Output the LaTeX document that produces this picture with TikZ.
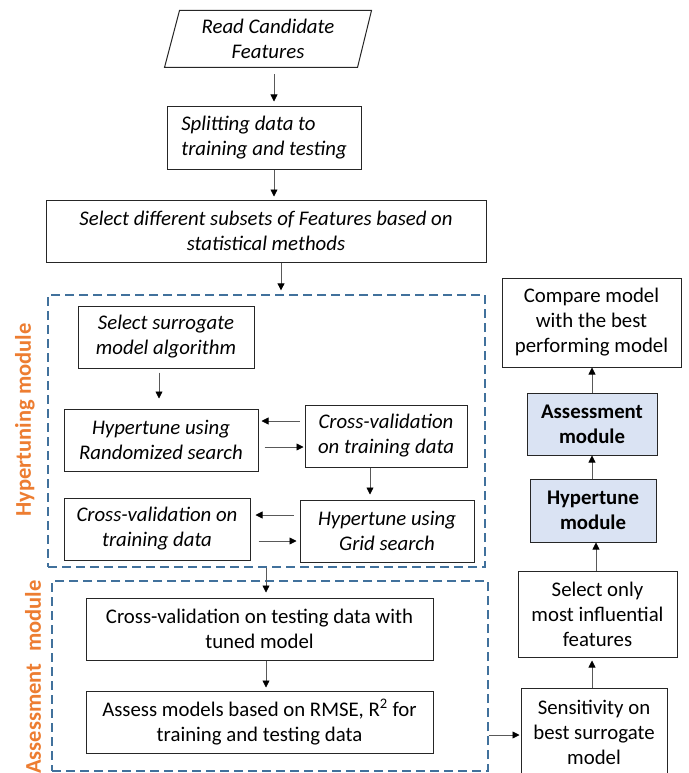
\documentclass[tikz,border=0pt]{standalone}
\usepackage{fontspec}
\setmainfont{Carlito}
\usetikzlibrary{arrows.meta}
\definecolor{dashblue}{HTML}{41719C}
\definecolor{orng}{HTML}{ED7D31}
\definecolor{lblue}{HTML}{DAE3F3}
\definecolor{edge}{HTML}{262626}
\begin{document}
\begin{tikzpicture}[x=1pt,y=-1pt,
 box/.style={draw=edge, line width=1pt, inner sep=0pt, align=center, font=\fontsize{20.8}{25}\selectfont},
 ibox/.style={box, font=\fontsize{20.8}{25}\selectfont\itshape},
 mbox/.style={box, fill=lblue, font=\fontsize{20.8}{25}\selectfont\bfseries},
 module/.style={draw=dashblue, line width=1.3pt, dash pattern=on 9pt off 5pt, inner sep=0pt},
 arr/.style={draw=black!65, line width=0.8pt, -{Triangle[length=7pt,width=7pt,color=black]}},
 lab/.style={text=orng, font=\fontsize{22.5}{25}\selectfont\bfseries, rotate=90, inner sep=0pt}
]
\useasboundingbox (0,0) rectangle (688,773);
\clip (0,0) rectangle (688,773);
\fill[white] (0,0) rectangle (688,773);

% top chain
\node[ibox, draw=none, minimum width=206pt, minimum height=56pt] (read) at (268,39) {Read Candidate\\Features};
\draw[edge, line width=1pt] (read.south west) -- ([xshift=-14pt]read.south east) -- (read.north east) -- ([xshift=15pt]read.north west) -- cycle;
\node[ibox, minimum width=194pt, minimum height=62pt, align=left] (split) at (264,138) {Splitting data to\\training and testing};
\node[ibox, minimum width=440pt, minimum height=62pt] (sel) at (266,231) {Select different subsets of Features based on\\statistical methods};

% module frames
\node[module, minimum width=437pt, minimum height=272pt] (hyp) at (266.5,431) {};
\node[module, minimum width=436pt, minimum height=190pt] (ass) at (270,676) {};
\node[lab] (lh) at (25,420) {Hypertuning module};
\node[lab] (la) at (33,677) {Assessment\hspace{7pt} module};

% hypertuning module
\node[ibox, minimum width=176pt, minimum height=62pt] (sur) at (166,337) {Select surrogate\\model algorithm};
\node[ibox, minimum width=194pt, minimum height=62pt] (rand) at (161,440) {Hypertune using\\Randomized search};
\node[ibox, minimum width=162pt, minimum height=62pt] (cv1) at (386,436) {Cross-validation\\on training data};
\node[ibox, minimum width=174pt, minimum height=62pt] (grid) at (387,531) {Hypertune using\\Grid search};
\node[ibox, minimum width=186pt, minimum height=62pt] (cv2) at (157,529) {Cross-validation on\\training data};

% assessment module
\node[box, minimum width=347pt, minimum height=62pt] (cvt) at (259.5,629) {Cross-validation on testing data with\\tuned model};
\node[box, minimum width=347pt, minimum height=62pt] (asm) at (259.5,722) {Assess models based on RMSE, R\textsuperscript{2} for\\training and testing data};

% right column
\node[box, minimum width=179pt, minimum height=89pt] (cmp) at (591.5,322.5) {Compare model\\with the best\\performing model};
\node[mbox, minimum width=130pt, minimum height=62pt] (amod) at (592,424) {Assessment\\module};
\node[mbox, minimum width=126pt, minimum height=63pt] (hmod) at (593,510.5) {Hypertune\\module};
\node[box, minimum width=159pt, minimum height=86pt] (selonly) at (597.5,614) {Select only\\most influential\\features};
\node[box, minimum width=146pt, minimum height=88pt] (sens) at (594,732) {Sensitivity on\\best surrogate\\model};

% helper coordinates
\coordinate (c1) at (274,0);
\coordinate (c2) at (281,0);
\coordinate (c3) at (159,0);
\coordinate (c4) at (370,0);
\coordinate (c5) at (266,0);
\coordinate (c6) at (592,0);
\coordinate (c7) at (596,0);
\coordinate (r1) at (0,421);
\coordinate (r2) at (0,447);
\coordinate (r3) at (0,515);
\coordinate (r4) at (0,541);
\coordinate (r5) at (0,735);

% connectors
\draw[arr, shorten <=7pt, shorten >=5pt] (read.south -| c1) -- (split.north -| c1);
\draw[arr, shorten >=3pt] (split.south -| c1) -- (sel.north -| c1);
\draw[arr, shorten >=4pt] (sel.south -| c2) -- (hyp.north -| c2);
\draw[arr, shorten <=4pt, shorten >=10pt] (sur.south -| c3) -- (rand.north -| c3);
\draw[arr, shorten <=5pt, shorten >=3pt] (cv1.west |- r1) -- (rand.east |- r1);
\draw[arr, shorten <=6pt, shorten >=1pt] (rand.east |- r2) -- (cv1.west |- r2);
\draw[arr, shorten >=5pt] (cv1.south -| c4) -- (grid.north -| c4);
\draw[arr, shorten <=6pt, shorten >=5pt] (grid.west |- r3) -- (cv2.east |- r3);
\draw[arr, shorten <=8pt, shorten >=3pt] (cv2.east |- r4) -- (grid.west |- r4);
\draw[arr, shorten >=5pt] (hyp.south -| c5) -- (cvt.north -| c5);
\draw[arr, shorten >=3pt] (cvt.south -| c5) -- (asm.north -| c5);
\draw[arr, shorten >=1pt] (ass.east |- r5) -- (sens.west |- r5);
\draw[arr, shorten >=3pt] (sens.north -| c6) -- (selonly.south -| c6);
\draw[arr] (selonly.north -| c7) -- (hmod.south -| c7);
\draw[arr] (hmod.north -| c6) -- (amod.south -| c6);
\draw[arr] (amod.north -| c6) -- (cmp.south -| c6);
\end{tikzpicture}
\end{document}
